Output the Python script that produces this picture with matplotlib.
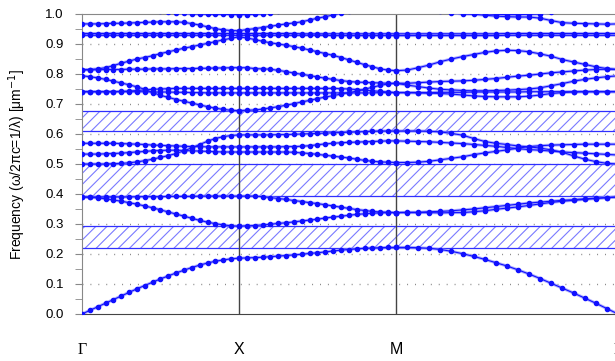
import numpy as np
import matplotlib
matplotlib.use("Agg")
import matplotlib.pyplot as plt

# k-path: Gamma - X - M - Gamma, 21 points per segment
seg_names = ["\u0393", "X", "M", "\u0393"]
seg_len = [1.0, 1.0, np.sqrt(2)]

# band frequencies (omega/2pi c), per segment: G-X | X-M | M-G
band1 = [0.0, 0.012, 0.024, 0.036, 0.048, 0.06, 0.072, 0.084, 0.095, 0.106, 0.117, 0.127, 0.137, 0.146, 0.155, 0.163, 0.17, 0.176, 0.18, 0.184, 0.186,
         0.186, 0.187, 0.188, 0.189, 0.191, 0.193, 0.195, 0.197, 0.199, 0.202, 0.204, 0.207, 0.21, 0.213, 0.215, 0.217, 0.219, 0.22, 0.221, 0.222, 0.222,
         0.222, 0.222, 0.221, 0.219, 0.215, 0.209, 0.201, 0.192, 0.182, 0.171, 0.16, 0.147, 0.133, 0.118, 0.102, 0.086, 0.07, 0.053, 0.036, 0.018, 0.0]
band2 = [0.39, 0.389, 0.387, 0.384, 0.38, 0.376, 0.371, 0.366, 0.36, 0.354, 0.347, 0.34, 0.333, 0.326, 0.319, 0.312, 0.306, 0.301, 0.297, 0.294, 0.293,
         0.293, 0.294, 0.295, 0.297, 0.299, 0.302, 0.304, 0.307, 0.31, 0.313, 0.316, 0.32, 0.323, 0.326, 0.329, 0.332, 0.334, 0.336, 0.337, 0.338, 0.338,
         0.338, 0.338, 0.338, 0.338, 0.337, 0.338, 0.338, 0.341, 0.344, 0.349, 0.353, 0.357, 0.362, 0.367, 0.372, 0.376, 0.379, 0.382, 0.385, 0.388, 0.39]
band3 = [0.39, 0.39, 0.39, 0.39, 0.39, 0.39, 0.39, 0.391, 0.391, 0.391, 0.391, 0.392, 0.392, 0.392, 0.392, 0.393, 0.393, 0.393, 0.393, 0.393, 0.393,
         0.393, 0.393, 0.393, 0.391, 0.388, 0.385, 0.382, 0.378, 0.375, 0.371, 0.368, 0.364, 0.36, 0.356, 0.352, 0.348, 0.345, 0.342, 0.34, 0.339, 0.338,
         0.338, 0.339, 0.339, 0.341, 0.342, 0.344, 0.347, 0.35, 0.354, 0.358, 0.362, 0.366, 0.37, 0.373, 0.376, 0.379, 0.381, 0.384, 0.386, 0.388, 0.39]
band4 = [0.5, 0.5, 0.5, 0.5, 0.501, 0.502, 0.504, 0.507, 0.511, 0.516, 0.522, 0.528, 0.535, 0.544, 0.554, 0.565, 0.576, 0.585, 0.591, 0.595, 0.597,
         0.597, 0.597, 0.597, 0.597, 0.597, 0.598, 0.598, 0.599, 0.6, 0.601, 0.602, 0.603, 0.604, 0.605, 0.606, 0.607, 0.608, 0.609, 0.61, 0.61, 0.61,
         0.61, 0.61, 0.61, 0.609, 0.607, 0.602, 0.596, 0.585, 0.575, 0.569, 0.565, 0.56, 0.557, 0.553, 0.547, 0.539, 0.527, 0.516, 0.508, 0.502, 0.5]
band5 = [0.533, 0.533, 0.533, 0.534, 0.535, 0.536, 0.538, 0.54, 0.542, 0.544, 0.545, 0.546, 0.546, 0.545, 0.544, 0.543, 0.542, 0.541, 0.54, 0.54, 0.54,
         0.54, 0.54, 0.54, 0.54, 0.54, 0.54, 0.54, 0.539, 0.537, 0.535, 0.532, 0.529, 0.526, 0.523, 0.52, 0.516, 0.512, 0.509, 0.507, 0.506, 0.505,
         0.505, 0.505, 0.506, 0.509, 0.514, 0.519, 0.524, 0.531, 0.537, 0.542, 0.547, 0.553, 0.558, 0.561, 0.563, 0.564, 0.565, 0.566, 0.566, 0.566, 0.566]
band6 = [0.569, 0.569, 0.569, 0.569, 0.569, 0.568, 0.567, 0.566, 0.565, 0.563, 0.562, 0.561, 0.56, 0.559, 0.558, 0.558, 0.557, 0.557, 0.557, 0.557, 0.557,
         0.557, 0.557, 0.557, 0.557, 0.557, 0.557, 0.558, 0.558, 0.559, 0.561, 0.564, 0.567, 0.569, 0.571, 0.572, 0.573, 0.574, 0.575, 0.576, 0.577, 0.577,
         0.577, 0.576, 0.575, 0.574, 0.572, 0.57, 0.568, 0.565, 0.562, 0.559, 0.555, 0.551, 0.548, 0.546, 0.543, 0.54, 0.538, 0.536, 0.534, 0.532, 0.53]
band7 = [0.741, 0.741, 0.741, 0.741, 0.741, 0.741, 0.741, 0.741, 0.741, 0.74, 0.74, 0.74, 0.739, 0.739, 0.738, 0.738, 0.737, 0.737, 0.737, 0.737, 0.737,
         0.737, 0.737, 0.737, 0.737, 0.737, 0.737, 0.737, 0.737, 0.737, 0.737, 0.737, 0.737, 0.737, 0.737, 0.737, 0.737, 0.737, 0.737, 0.738, 0.738, 0.738,
         0.738, 0.738, 0.738, 0.738, 0.739, 0.739, 0.739, 0.74, 0.74, 0.74, 0.74, 0.74, 0.741, 0.741, 0.741, 0.741, 0.741, 0.741, 0.741, 0.741, 0.741]
band8 = [0.741, 0.741, 0.741, 0.741, 0.741, 0.742, 0.743, 0.745, 0.747, 0.749, 0.75, 0.751, 0.752, 0.752, 0.752, 0.752, 0.752, 0.752, 0.752, 0.752, 0.752,
         0.752, 0.752, 0.752, 0.752, 0.752, 0.752, 0.752, 0.752, 0.752, 0.752, 0.752, 0.752, 0.752, 0.751, 0.75, 0.748, 0.746, 0.744, 0.742, 0.74, 0.738,
         0.738, 0.738, 0.737, 0.736, 0.735, 0.733, 0.73, 0.727, 0.725, 0.724, 0.724, 0.724, 0.726, 0.73, 0.735, 0.738, 0.74, 0.741, 0.741, 0.741, 0.741]
band9 = [0.794, 0.791, 0.787, 0.782, 0.776, 0.77, 0.764, 0.757, 0.749, 0.738, 0.729, 0.722, 0.715, 0.709, 0.703, 0.697, 0.691, 0.686, 0.682, 0.679, 0.678,
         0.678, 0.679, 0.68, 0.683, 0.687, 0.691, 0.696, 0.701, 0.707, 0.712, 0.718, 0.723, 0.728, 0.733, 0.738, 0.743, 0.749, 0.756, 0.762, 0.767, 0.769,
         0.769, 0.763, 0.758, 0.753, 0.749, 0.747, 0.745, 0.744, 0.744, 0.745, 0.746, 0.748, 0.75, 0.754, 0.761, 0.768, 0.776, 0.782, 0.787, 0.791, 0.794]
band10 = [0.814, 0.814, 0.814, 0.815, 0.815, 0.815, 0.816, 0.816, 0.816, 0.817, 0.817, 0.817, 0.818, 0.818, 0.818, 0.819, 0.819, 0.82, 0.82, 0.821, 0.821,
          0.821, 0.821, 0.818, 0.817, 0.816, 0.812, 0.808, 0.803, 0.799, 0.795, 0.79, 0.786, 0.782, 0.778, 0.775, 0.773, 0.772, 0.771, 0.77, 0.769, 0.769,
          0.769, 0.769, 0.771, 0.773, 0.775, 0.776, 0.777, 0.779, 0.782, 0.785, 0.789, 0.793, 0.796, 0.8, 0.804, 0.807, 0.81, 0.813, 0.815, 0.816, 0.815]
band11 = [0.814, 0.815, 0.817, 0.821, 0.828, 0.836, 0.843, 0.85, 0.855, 0.861, 0.868, 0.874, 0.88, 0.886, 0.891, 0.897, 0.902, 0.908, 0.914, 0.919, 0.924,
          0.924, 0.92, 0.915, 0.909, 0.904, 0.9, 0.896, 0.891, 0.886, 0.88, 0.874, 0.868, 0.862, 0.855, 0.847, 0.839, 0.831, 0.824, 0.817, 0.813, 0.811,
          0.811, 0.813, 0.821, 0.83, 0.841, 0.85, 0.858, 0.865, 0.872, 0.877, 0.879, 0.878, 0.874, 0.867, 0.859, 0.848, 0.84, 0.832, 0.824, 0.818, 0.815]
band12 = [0.929, 0.929, 0.929, 0.929, 0.929, 0.929, 0.929, 0.929, 0.929, 0.929, 0.929, 0.929, 0.929, 0.929, 0.929, 0.929, 0.929, 0.929, 0.929, 0.929, 0.929,
          0.929, 0.929, 0.929, 0.929, 0.929, 0.929, 0.929, 0.929, 0.929, 0.929, 0.929, 0.929, 0.928, 0.928, 0.928, 0.928, 0.928, 0.928, 0.928, 0.928, 0.928,
          0.928, 0.928, 0.928, 0.928, 0.928, 0.928, 0.928, 0.928, 0.928, 0.928, 0.929, 0.929, 0.929, 0.929, 0.929, 0.929, 0.929, 0.929, 0.929, 0.929, 0.929]
band13 = [0.935, 0.935, 0.935, 0.935, 0.935, 0.935, 0.935, 0.935, 0.935, 0.935, 0.935, 0.935, 0.935, 0.935, 0.935, 0.935, 0.935, 0.935, 0.935, 0.935, 0.935,
          0.935, 0.935, 0.935, 0.935, 0.935, 0.935, 0.935, 0.935, 0.934, 0.934, 0.934, 0.934, 0.934, 0.934, 0.934, 0.934, 0.934, 0.934, 0.934, 0.934, 0.934,
          0.934, 0.934, 0.934, 0.934, 0.934, 0.934, 0.934, 0.934, 0.934, 0.934, 0.935, 0.935, 0.935, 0.935, 0.935, 0.935, 0.935, 0.935, 0.935, 0.935, 0.935]
band14 = [0.967, 0.967, 0.967, 0.968, 0.969, 0.969, 0.97, 0.971, 0.972, 0.973, 0.974, 0.974, 0.974, 0.972, 0.968, 0.963, 0.957, 0.951, 0.947, 0.945, 0.944,
          0.944, 0.948, 0.951, 0.955, 0.959, 0.963, 0.967, 0.97, 0.974, 0.98, 0.986, 0.991, 0.997, 1.003, 1.01, 1.017, 1.024, 1.03, 1.036, 1.04, 1.043,
          1.043, 1.038, 1.03, 1.02, 1.011, 1.004, 1.0, 0.999, 0.996, 0.993, 0.991, 0.99, 0.99, 0.986, 0.978, 0.971, 0.969, 0.968, 0.967, 0.966, 0.967]
band15 = [1.06, 1.055, 1.05, 1.045, 1.04, 1.035, 1.03, 1.025, 1.02, 1.015, 1.011, 1.008, 1.005, 1.002, 1.0, 1.0, 0.999, 0.999, 0.999, 0.998, 0.998,
          0.998, 0.998, 0.999, 1.0, 1.004, 1.01, 1.016, 1.022, 1.028, 1.034, 1.04, 1.045, 1.05, 1.055, 1.06, 1.063, 1.066, 1.068, 1.07, 1.071, 1.072,
          1.072, 1.065, 1.055, 1.045, 1.035, 1.025, 1.014, 1.006, 1.0, 0.999, 0.998, 0.998, 0.999, 1.0, 1.006, 1.015, 1.025, 1.035, 1.045, 1.055, 1.06]
bands = [band1, band2, band3, band4, band5, band6, band7, band8, band9, band10,
         band11, band12, band13, band14, band15]

# photonic band gaps (bottom, top)
gap_lo = [0.221, 0.394, 0.611]
gap_hi = [0.293, 0.500, 0.676]

# k coordinates
k_nodes = np.concatenate([[0], np.cumsum(seg_len)])
k = np.concatenate([np.linspace(k_nodes[i], k_nodes[i + 1], 21) for i in range(3)])

plt.rcParams['font.family'] = ['Liberation Sans', 'DejaVu Sans']
plt.rcParams['hatch.linewidth'] = 0.8

fig = plt.figure(figsize=(6.15, 3.61), dpi=100)
ax = fig.add_axes([82 / 615, 47 / 361, 536 / 615, 300 / 361])

for lo, hi in zip(gap_lo, gap_hi):
    ax.axhspan(lo, hi, facecolor='white', edgecolor='#7a7aff', hatch='///', lw=0, zorder=1)
    ax.axhline(lo, color='#3030ff', lw=0.9, zorder=2)
    ax.axhline(hi, color='#3030ff', lw=0.9, zorder=2)

for y in np.arange(0.1, 1.0, 0.1):
    ax.axhline(y, color='#888888', lw=1.0, ls=(0, (0.7, 5.0)), zorder=0.5)

for kn in k_nodes[1:-1]:
    ax.axvline(kn, color='#444444', lw=1.0, zorder=2)

for b in bands:
    ax.plot(k, b, color='#8c8cff', lw=2.2, alpha=0.7, zorder=3, solid_capstyle='round')
    ax.plot(k, b, color='#1010ff', lw=0.8, marker='o', ms=3.0, mec='#1010ff', mfc='#1010ff', zorder=4)

ax.set_xlim(k_nodes[0], k_nodes[-1])
ax.set_ylim(0, 1.0)
ax.set_yticks(np.arange(0, 1.01, 0.1))
ax.set_yticks(np.arange(0.05, 1.0, 0.1), minor=True)
ax.set_yticklabels(["%.1f" % v for v in np.arange(0, 1.01, 0.1)], fontsize=9.5)
ax.tick_params(axis='y', which='both', direction='out', length=5, color='#888888', pad=8)
ax.set_xticks(k_nodes)
ax.set_xticklabels(seg_names, fontsize=11.5)
for i, lab in enumerate(ax.get_xticklabels()):
    if seg_names[i] == "\u0393":
        lab.set_family(['Liberation Serif', 'DejaVu Serif'])
ax.tick_params(axis='x', length=0, pad=20)

for s in ['left', 'top']:
    ax.spines[s].set_color('#888888')
ax.spines['bottom'].set_color('#444444')
ax.spines['right'].set_visible(False)

ax.set_ylabel("Frequency (\u03c9/2\u03c0c=1/\u03bb) [\u03bcm$^{-1}$]", fontsize=10)
ax.yaxis.set_label_coords(-0.1, 0.5)

fig.savefig("out.png", dpi=100)
